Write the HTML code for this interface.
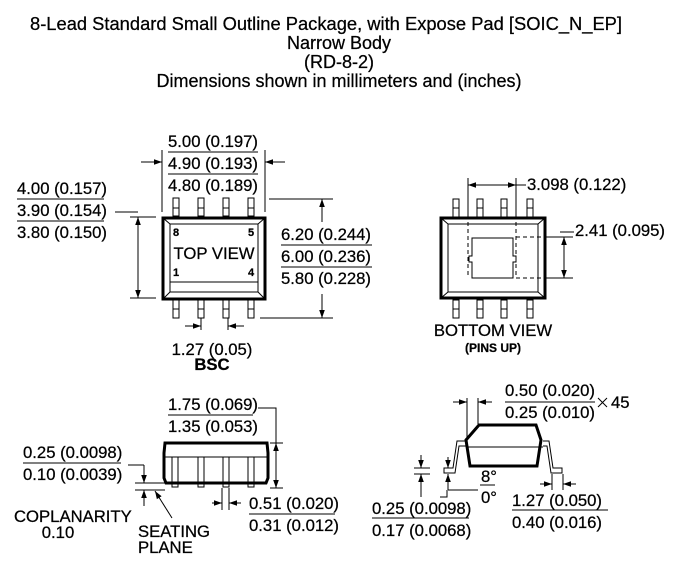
<!DOCTYPE html>
<html><head><meta charset="utf-8"><style>
html,body{margin:0;padding:0;background:#fff;}
svg{display:block;font-family:"Liberation Sans",Arial,sans-serif;}
text{font-size:16.7px;fill:#000;stroke:#000;stroke-width:0.25;}
</style></head><body>
<svg width="678" height="564" viewBox="0 0 678 564" xmlns="http://www.w3.org/2000/svg">
<defs>
<marker id="a" viewBox="0 0 10 10" refX="10" refY="5" markerWidth="8" markerHeight="8" orient="auto-start-reverse" markerUnits="userSpaceOnUse"><path d="M0,1.5 L10,5 L0,8.5z" fill="#000"/></marker>
</defs>
<g text-anchor="middle">
<text x="326" y="30" textLength="592" lengthAdjust="spacingAndGlyphs" style="font-size:18px">8-Lead Standard Small Outline Package, with Expose Pad [SOIC_N_EP]</text>
<text x="339" y="49" style="font-size:18px">Narrow Body</text>
<text x="339" y="68" style="font-size:18px">(RD-8-2)</text>
<text x="339" y="87" textLength="365" lengthAdjust="spacingAndGlyphs" style="font-size:18px">Dimensions shown in millimeters and (inches)</text>
</g>
<g stroke="#000" fill="none" stroke-width="1">
<!-- TOP VIEW -->
<rect x="163" y="218" width="102" height="81" stroke-width="3"/>
<rect x="170" y="224" width="88" height="68"/>
<line x1="163" y1="218" x2="170" y2="224"/><line x1="265" y1="218" x2="258" y2="224"/>
<line x1="163" y1="299" x2="170" y2="292"/><line x1="265" y1="299" x2="258" y2="292"/>
<line x1="170" y1="282" x2="258" y2="282"/>
<g>
<rect x="173" y="198" width="6" height="18"/><rect x="198" y="198" width="6" height="18"/><rect x="223" y="198" width="6" height="18"/><rect x="248" y="198" width="6" height="18"/>
<rect x="173" y="300" width="6" height="18"/><rect x="198" y="300" width="6" height="18"/><rect x="223" y="300" width="6" height="18"/><rect x="248" y="300" width="6" height="18"/>
<path d="M173 208h6M198 208h6M223 208h6M248 208h6M173 309h6M198 309h6M223 309h6M248 309h6"/>
</g>
<path d="M162 150v62M265 150v62"/>
<line x1="141" y1="162" x2="162" y2="162" marker-end="url(#a)"/>
<line x1="285" y1="162" x2="265" y2="162" marker-end="url(#a)"/>
<path d="M168 152h90M168 174h90M17 199h87M17 221h87"/>
<path d="M115 212h23M130 217h26M130 298h26"/>
<line x1="138" y1="217" x2="138" y2="298" marker-start="url(#a)" marker-end="url(#a)"/>
<path d="M269 199h64M260 318h73M281 245h91M281 267h91"/>
<line x1="322" y1="222" x2="322" y2="199" marker-end="url(#a)"/>
<line x1="322" y1="294" x2="322" y2="318" marker-end="url(#a)"/>
<path d="M201 318v12M228 318v12"/>
<line x1="185" y1="326" x2="201" y2="326" marker-end="url(#a)"/>
<line x1="244" y1="326" x2="228" y2="326" marker-end="url(#a)"/>
<!-- BOTTOM VIEW -->
<rect x="441" y="218" width="104" height="80" stroke-width="3"/>
<rect x="448" y="224" width="90" height="68"/>
<line x1="441" y1="218" x2="448" y2="224"/><line x1="545" y1="218" x2="538" y2="224"/>
<line x1="441" y1="298" x2="448" y2="292"/><line x1="545" y1="298" x2="538" y2="292"/>
<rect x="453" y="199" width="6" height="18"/><rect x="477" y="199" width="6" height="18"/><rect x="501" y="199" width="6" height="18"/><rect x="527" y="199" width="6" height="18"/>
<rect x="453" y="300" width="6" height="18"/><rect x="477" y="300" width="6" height="18"/><rect x="501" y="300" width="6" height="18"/><rect x="527" y="300" width="6" height="18"/>
<path d="M453 208h6M477 208h6M501 208h6M527 208h6M453 309h6M477 309h6M501 309h6M527 309h6"/>
<path d="M472 238h41v18h3v6h-3v16h-41v-16h-3v-6h3z"/>
<path d="M468 222v56M516 222v56M516 237h28M516 278h28" stroke-dasharray="4,3"/>
<path d="M468 178v40M516 178v40M545 237h28M545 278h28M560 232h14"/>
<line x1="494" y1="185" x2="468" y2="185" marker-end="url(#a)"/>
<line x1="490" y1="185" x2="516" y2="185" marker-end="url(#a)"/>
<line x1="526" y1="185" x2="516" y2="185"/>
<line x1="564" y1="258" x2="564" y2="237" marker-end="url(#a)"/>
<line x1="564" y1="258" x2="564" y2="278" marker-end="url(#a)"/>
<!-- SIDE VIEW LEFT -->
<path d="M165 443h102l1 10v25l-2 5H166l-2-5v-25z" stroke-width="3"/>
<line x1="164" y1="457" x2="268" y2="457"/>
<path d="M172 457v30h6v-30M198 457v30h6v-30M223 457v30h6v-30M248 457v30h6v-30"/>
<path d="M168 415h85M23 463h98M258 408h18v35M270 443h13M270 488h13"/>
<line x1="276" y1="466" x2="276" y2="443" marker-end="url(#a)"/>
<line x1="276" y1="466" x2="276" y2="488" marker-end="url(#a)"/>
<path d="M128 465h16M135 483h30M135 490h30"/>
<line x1="144" y1="465" x2="144" y2="483" marker-end="url(#a)"/>
<line x1="144" y1="506" x2="144" y2="490" marker-end="url(#a)"/>
<line x1="172" y1="518" x2="155" y2="491" marker-end="url(#a)"/>
<path d="M222 488v22M229 488v22M249 514h86"/>
<line x1="212" y1="503" x2="222" y2="503" marker-end="url(#a)"/>
<line x1="241" y1="503" x2="229" y2="503" marker-end="url(#a)"/>
<!-- SIDE VIEW RIGHT -->
<path d="M479 425h57l5 15-4 26h-67l-4-26z" stroke-width="3"/>
<line x1="466" y1="447" x2="543" y2="447"/>
<path d="M466 441h-9l-4 27h-9v5h11l4-27h7"/>
<path d="M543 441h6l4 27h9v5h-11l-4-27h-4"/>
<path d="M467 398v42M478 398v26M505 402h90M372 518h97M480 485h15M512 510h96"/>
<line x1="453" y1="402" x2="467" y2="402" marker-end="url(#a)"/>
<line x1="492" y1="402" x2="478" y2="402" marker-end="url(#a)"/>
<path d="M414 468h16M414 474h16M440 497h7v-7M448 490h30"/>
<line x1="421" y1="455" x2="421" y2="468" marker-end="url(#a)"/>
<line x1="421" y1="497" x2="421" y2="474" marker-end="url(#a)"/>
<line x1="448" y1="457" x2="448" y2="468" marker-end="url(#a)"/>
<line x1="448" y1="490" x2="448" y2="474" marker-end="url(#a)"/>
<path d="M552 474v16M563 474v16"/>
<line x1="540" y1="484" x2="552" y2="484" marker-end="url(#a)"/>
<line x1="576" y1="484" x2="563" y2="484" marker-end="url(#a)"/>
<path d="M598 398l9 9M607 398l-9 9"/>
</g>
<g>
<text x="168" y="147">5.00 (0.197)</text>
<text x="168" y="169">4.90 (0.193)</text>
<text x="168" y="191">4.80 (0.189)</text>
<text x="17" y="194">4.00 (0.157)</text>
<text x="17" y="216">3.90 (0.154)</text>
<text x="17" y="238">3.80 (0.150)</text>
<text x="281" y="240">6.20 (0.244)</text>
<text x="281" y="262">6.00 (0.236)</text>
<text x="281" y="284">5.80 (0.228)</text>
<text x="173" y="236" style="font-size:11px;font-weight:bold">8</text>
<text x="248" y="236" style="font-size:11px;font-weight:bold">5</text>
<text x="173" y="276" style="font-size:11px;font-weight:bold">1</text>
<text x="248" y="276" style="font-size:11px;font-weight:bold">4</text>
<text x="214" y="259" text-anchor="middle">TOP VIEW</text>
<text x="212" y="355" text-anchor="middle">1.27 (0.05)</text>
<text x="212" y="370" text-anchor="middle" style="font-weight:bold">BSC</text>
<text x="527" y="190">3.098 (0.122)</text>
<text x="575" y="236">2.41 (0.095)</text>
<text x="493" y="336" text-anchor="middle">BOTTOM VIEW</text>
<text x="493" y="352" text-anchor="middle" style="font-size:12px;font-weight:bold">(PINS UP)</text>
<text x="168" y="410">1.75 (0.069)</text>
<text x="168" y="432">1.35 (0.053)</text>
<text x="23" y="458">0.25 (0.0098)</text>
<text x="23" y="480">0.10 (0.0039)</text>
<text x="14" y="522">COPLANARITY</text>
<text x="58" y="538" text-anchor="middle">0.10</text>
<text x="138" y="537">SEATING</text>
<text x="138" y="553">PLANE</text>
<text x="249" y="509">0.51 (0.020)</text>
<text x="249" y="531">0.31 (0.012)</text>
<text x="505" y="396">0.50 (0.020)</text>
<text x="505" y="418">0.25 (0.010)</text>
<text x="611" y="408">45</text>
<text x="481" y="482">8°</text>
<text x="481" y="503">0°</text>
<text x="372" y="514">0.25 (0.0098)</text>
<text x="372" y="536">0.17 (0.0068)</text>
<text x="512" y="506">1.27 (0.050)</text>
<text x="512" y="528">0.40 (0.016)</text>
</g>
</svg>
</body></html>
